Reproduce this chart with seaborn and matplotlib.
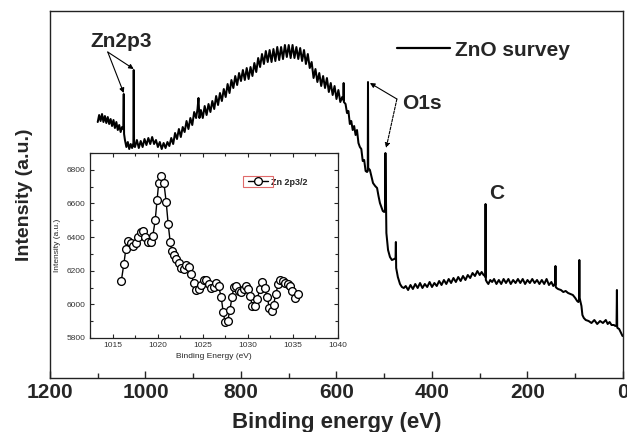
#!/usr/bin/env python3
import os

os.environ.setdefault("MPLBACKEND", "Agg")

import matplotlib.pyplot as plt
from matplotlib.patches import Rectangle
from matplotlib.ticker import MultipleLocator
import pandas as pd
import seaborn as sns

# --- survey spectrum (binding energy in eV, intensity in a.u.) ---
zn_region_energy = [1100, 1097, 1094, 1091, 1088, 1085, 1082, 1079, 1076, 1073, 1070, 1067,
                    1064, 1061, 1058, 1055, 1052, 1049, 1046.5, 1045.5, 1044.8, 1043, 1040,
                    1037, 1034, 1031, 1028, 1025.3, 1024.6, 1023.9, 1022, 1018, 1014, 1010,
                    1006, 1002, 998, 994, 990, 986, 982, 978, 974, 970, 966, 962, 958, 954, 950]
zn_region_counts = [250, 257, 251, 258, 250, 256, 249, 255, 248, 253, 246, 252,
                    244, 250, 242, 247, 240, 245, 243, 278, 238, 232, 225,
                    230, 223, 228, 224, 229, 302, 226, 225, 232, 224, 231,
                    225, 233, 227, 234, 228, 235, 228, 232, 225, 230, 223, 229, 224, 230, 226]

hump_energy = [946, 942, 938, 934, 930, 926, 922, 918, 914, 910, 906, 902, 898, 894, 891, 889,
               887, 884, 880, 876, 872, 868, 864, 860, 856, 852, 848, 844, 840, 836, 832, 828,
               824, 820, 816, 812, 808, 804, 800, 796, 792, 788, 784, 780, 776, 772, 768, 764,
               760, 756, 752, 748, 744, 740, 736, 732, 728, 724, 720, 716, 712, 708, 704, 700,
               696, 692, 688, 684, 680, 676, 672, 668, 664, 660, 656, 652, 648, 644, 640, 636,
               632, 628, 624, 620, 616, 612, 608, 604, 600, 596, 592]
hump_counts = [234, 228, 239, 233, 243, 235, 245, 240, 251, 243, 254, 247, 260, 254, 263, 274,
               254, 262, 254, 266, 257, 268, 260, 271, 263, 276, 267, 279, 271, 283, 275, 288,
               279, 292, 284, 296, 287, 299, 291, 302, 292, 304, 293, 305, 296, 309, 300, 314,
               305, 318, 308, 321, 310, 322, 310, 323, 311, 325, 312, 325, 313, 327, 315, 327,
               314, 327, 314, 325, 313, 324, 311, 322, 308, 318, 304, 310, 294, 303, 290, 299,
               286, 296, 284, 294, 280, 289, 277, 286, 273, 282, 270]

o_region_energy = [588, 585.5, 585, 584.5, 581, 578, 575, 572, 569, 566, 563, 560, 557, 554,
                   551, 548, 545, 542, 539, 536, 534.5, 534, 533.5, 530, 527, 523.5, 519, 515,
                   512, 509, 506, 503, 500, 498.5, 497.5, 496.5, 495.5, 492, 488, 484, 479,
                   476.3, 475.6, 475, 471.5, 467, 463, 459]
o_region_counts = [275, 272, 289, 270, 268, 259, 261, 248, 251, 242, 246, 237, 242, 229,
                   225, 223, 211, 212, 201, 200, 201, 290, 204, 202, 196, 189, 186, 184,
                   176, 169, 165, 161, 160, 162, 219, 179, 139, 122, 115, 112, 113,
                   114, 130, 104, 95, 88, 85, 84]

c_region_energy = [455, 450, 445, 440, 435, 430, 425, 420, 415, 410, 405, 400, 395, 390, 385,
                   380, 375, 370, 365, 360, 355, 350, 345, 340, 335, 330, 325, 320, 315, 310,
                   305, 300, 296, 292, 289, 288.4, 287.8, 287.2, 285, 282, 278]
c_region_counts = [86, 82, 87, 83, 88, 84, 89, 84, 88, 85, 90, 85, 89, 86, 91,
                   87, 92, 88, 93, 89, 94, 90, 95, 91, 96, 92, 97, 94, 99, 96,
                   101, 97, 100, 97, 96, 95, 168, 92, 90, 88, 92]

low_region_energy = [274, 270, 265, 260, 255, 250, 245, 240, 235, 230, 225, 220, 215, 210, 205,
                     200, 195, 190, 185, 180, 175, 170, 165, 160, 155, 150, 146, 143, 142, 141.4,
                     140.8, 139, 136, 130, 125, 120, 115, 110, 105, 100, 96, 93.5, 92, 91.4,
                     90.8, 89, 87, 85, 82, 78, 72, 66, 60, 54, 48, 42, 36, 32, 28, 24, 19, 16,
                     13.5, 12.7, 12.1, 11.5, 8, 5, 3, 1]
low_region_counts = [90, 93, 88, 92, 88, 93, 89, 93, 88, 92, 89, 93, 89, 93, 88,
                     92, 89, 93, 89, 92, 88, 92, 88, 93, 87, 90, 86, 88, 87, 106,
                     85, 84, 83, 82, 80, 81, 79, 78, 77, 74, 71, 70, 72, 112,
                     74, 70, 66, 57, 54, 52, 51, 49, 52, 48, 51, 49, 52, 48, 50, 47, 47, 46,
                     47, 82, 45, 44, 43, 40, 38, 36]

# --- inset: Zn 2p3/2 high resolution scan ---
zn2p_energy = [1015.97, 1016.26, 1016.48, 1016.73, 1017.02, 1017.31, 1017.56, 1017.81, 1018.10,
               1018.39, 1018.64, 1018.93, 1019.22, 1019.47, 1019.73, 1019.94, 1020.12, 1020.41,
               1020.70, 1020.95, 1021.17, 1021.39, 1021.60, 1021.82, 1022.07, 1022.32, 1022.61,
               1022.90, 1023.19, 1023.48, 1023.73, 1023.98, 1024.27, 1024.56, 1024.85, 1025.14,
               1025.39, 1025.68, 1025.97, 1026.22, 1026.51, 1026.76, 1027.05, 1027.27, 1027.48,
               1027.77, 1028.02, 1028.24, 1028.46, 1028.71, 1029.00, 1029.29, 1029.54, 1029.83,
               1030.04, 1030.26, 1030.51, 1030.76, 1031.05, 1031.34, 1031.59, 1031.85, 1032.14,
               1032.39, 1032.64, 1032.86, 1033.11, 1033.36, 1033.61, 1033.90, 1034.16, 1034.44,
               1034.70, 1034.95, 1035.24, 1035.53]
zn2p_counts = [6139, 6242, 6332, 6376, 6362, 6346, 6366, 6398, 6431,
               6437, 6402, 6372, 6372, 6408, 6501, 6621, 6724, 6764,
               6720, 6607, 6477, 6372, 6316, 6292, 6272, 6246, 6216,
               6212, 6232, 6222, 6182, 6127, 6087, 6089, 6113, 6143,
               6147, 6119, 6099, 6103, 6129, 6107, 6043, 5953, 5894,
               5904, 5967, 6043, 6103, 6109, 6079, 6073, 6093, 6109,
               6093, 6047, 5989, 5993, 6033, 6093, 6133, 6099, 6043,
               5979, 5959, 5999, 6063, 6119, 6147, 6139, 6129, 6119,
               6107, 6079, 6039, 6059]

main_xticks = [1200, 1000, 800, 600, 400, 200, 0]
inset_xticks = [1015, 1020, 1025, 1030, 1035, 1040]
inset_yticks = [5800, 6000, 6200, 6400, 6600, 6800]


def main() -> int:
    sns.set_theme(style="ticks")
    plt.rcParams.update(
        {
            "font.size": 10,
            "axes.linewidth": 1.0,
            "axes.edgecolor": "#222222",
            "axes.facecolor": "white",
            "figure.facecolor": "white",
            "xtick.direction": "in",
            "ytick.direction": "in",
        }
    )
    plt.rcParams["font.family"] = ["Liberation Sans", "DejaVu Sans"]

    survey = pd.DataFrame(
        {
            "energy": zn_region_energy + hump_energy + o_region_energy + c_region_energy + low_region_energy,
            "counts": zn_region_counts + hump_counts + o_region_counts + c_region_counts + low_region_counts,
        }
    )
    zn2p = pd.DataFrame({"energy": zn2p_energy, "counts": zn2p_counts})

    fig = plt.figure(figsize=(6.27, 4.32), dpi=100)
    ax = fig.add_axes([0.0797, 0.125, 0.9139, 0.8495])

    sns.lineplot(data=survey, x="energy", y="counts", sort=False, estimator=None,
                 color="black", lw=1.45, ax=ax, label="ZnO survey")

    ax.set_xlim(1200, 0)
    ax.set_ylim(-6, 361)
    ax.set_xticks(main_xticks)
    ax.xaxis.set_minor_locator(MultipleLocator(100))
    ax.set_yticks([])
    ax.tick_params(axis="x", which="major", length=5, width=1.0, pad=3.5,
                   labelsize=15, top=False)
    ax.tick_params(axis="x", which="minor", length=3.5, width=1.0, top=False)
    for lab in ax.get_xticklabels():
        lab.set_fontweight("bold")
    ax.set_xlabel("Binding energy (eV)", fontsize=16, fontweight="bold")
    ax.xaxis.set_label_coords(0.5, -0.093)
    ax.set_ylabel("Intensity (a.u.)", fontsize=14, fontweight="bold")
    ax.yaxis.set_label_coords(-0.03, 0.5)

    ax.legend(loc="center left", bbox_to_anchor=(397 / 627, 1 - 50 / 432),
              bbox_transform=fig.transFigure, frameon=False, borderpad=0,
              borderaxespad=0, handlelength=2.55, handletextpad=0.25,
              prop={"size": 15, "weight": "bold"})
    for line in ax.get_legend().get_lines():
        line.set_linewidth(1.6)

    arrow = dict(arrowstyle="-|>", color="black", lw=0.8, mutation_scale=7,
                 shrinkA=0, shrinkB=0)
    ax.text(1052, 331, "Zn2p3", fontsize=15, fontweight="bold", ha="center", va="center")
    ax.annotate("", xy=(1045.5, 279), xytext=(1079, 320), arrowprops=arrow)
    ax.annotate("", xy=(1024.6, 303), xytext=(1079, 320), arrowprops=arrow)
    ax.text(421, 269, "O1s", fontsize=15, fontweight="bold", ha="center", va="center")
    ax.annotate("", xy=(530, 289), xytext=(473.5, 273), arrowprops=arrow)
    ax.annotate("", xy=(496, 224), xytext=(473.5, 273),
                arrowprops=dict(arrow, linestyle=(0, (2.5, 1.2))))
    ax.text(265, 179, "C", fontsize=15, fontweight="bold", ha="center", va="center")

    # inset
    ins = fig.add_axes([90 / 627, 1 - 338 / 432, 248 / 627, 185 / 432])
    sns.lineplot(data=zn2p, x="energy", y="counts", sort=False, estimator=None,
                 color="black", lw=1.0, marker="o", markersize=5.6,
                 markerfacecolor="white", markeredgecolor="black", markeredgewidth=0.95,
                 ax=ins, label="Zn 2p3/2")
    ins.set_xlim(1012.5, 1040)
    ins.set_ylim(5800, 6900)
    ins.set_xticks(inset_xticks)
    ins.set_yticks(inset_yticks)
    ins.xaxis.set_minor_locator(MultipleLocator(2.5))
    ins.yaxis.set_minor_locator(MultipleLocator(100))
    ins.tick_params(which="both", top=True, right=True, labelsize=6, pad=3,
                    labelcolor="#333333", width=0.8)
    ins.tick_params(which="major", length=3)
    ins.tick_params(which="minor", length=2)
    for side in ins.spines.values():
        side.set_linewidth(0.9)
    ins.set_xlabel("Binding Energy (eV)", fontsize=6, labelpad=3)
    ins.set_ylabel("Intensity (a.u.)", fontsize=6, labelpad=4)
    leg = ins.legend(loc="center left", bbox_to_anchor=(0.637, 0.843), frameon=False,
                     borderpad=0, borderaxespad=0, handlelength=2.2, handletextpad=0.3,
                     prop={"size": 6.5, "weight": "bold"})

    fig.canvas.draw()
    renderer = fig.canvas.get_renderer()
    bb = leg.legend_handles[0].get_window_extent(renderer)
    bb = bb.transformed(fig.transFigure.inverted())
    pad_x, pad_y = 1.0 / 627, 1.5 / 432
    fig.patches.append(Rectangle((bb.x0 - pad_x, bb.y0 - pad_y), bb.width + 2 * pad_x,
                                 bb.height + 2 * pad_y, transform=fig.transFigure,
                                 fill=False, edgecolor="#e06a6a", lw=0.8))

    fig.savefig("out.png", dpi=100)
    return 0


if __name__ == "__main__":
    raise SystemExit(main())
